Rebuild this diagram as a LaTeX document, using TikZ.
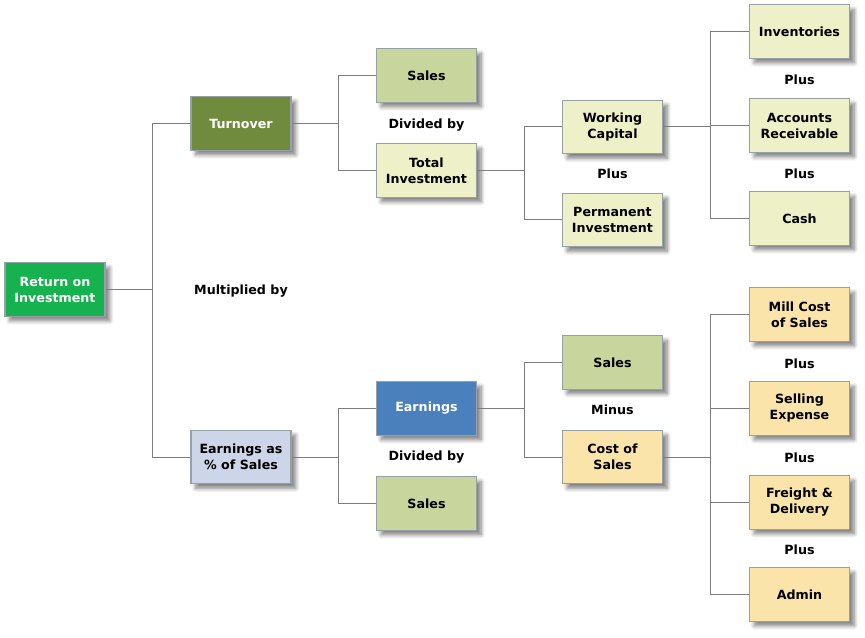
\documentclass[tikz,border=0pt]{standalone}
\usepackage{fontspec}
\setmainfont{DejaVu Sans}
\usepackage{tikz}
\usetikzlibrary{shadows.blur}

\definecolor{roigreen}{RGB}{22,178,80}
\definecolor{olive}{RGB}{112,138,62}
\definecolor{earnblue}{RGB}{74,128,188}
\definecolor{lavender}{RGB}{205,213,232}
\definecolor{salesgreen}{RGB}{200,214,158}
\definecolor{paleyellow}{RGB}{238,240,200}
\definecolor{amber}{RGB}{250,228,170}
\definecolor{boxline}{RGB}{150,160,166}
\definecolor{linkgray}{RGB}{125,125,125}

\tikzset{
  box/.style={draw=boxline, line width=0.8pt, minimum width=75pt, minimum height=40pt,
    align=center, font=\fontsize{9.5}{12}\selectfont\bfseries,
    blur shadow={shadow xshift=3.5pt, shadow yshift=-3.5pt, shadow blur radius=3pt,
      shadow blur steps=8, shadow opacity=50}},
  darkbox/.style={box, text=white},
  word/.style={font=\fontsize{9.5}{12}\selectfont\bfseries},
  link/.style={draw=linkgray, line width=0.75pt}
}

\begin{document}
\begin{tikzpicture}[x=0.75pt, y=-0.75pt]
		%%%%% START %%%%%
		\useasboundingbox (0, 0) rectangle (865, 638);
		
		\node[darkbox, fill=roigreen] (roi) at (55, 289.5) {Return on\\Investment};
		
		\node[darkbox, fill=olive] (turn) at (241, 123.5) {Turnover};
		\node[box, fill=lavender] (epct) at (241, 457) {Earnings as\\\% of Sales};
		
		\node[box, fill=salesgreen] (sales1) at (426.5, 75.5) {Sales};
		\node[box, fill=paleyellow] (totinv) at (426.5, 170.5) {Total\\Investment};
		\node[darkbox, fill=earnblue] (earn) at (426.5, 408.5) {Earnings};
		\node[box, fill=salesgreen] (sales2) at (426.5, 503.5) {Sales};
		
		\node[box, fill=paleyellow] (wcap) at (612.5, 127) {Working\\Capital};
		\node[box, fill=paleyellow] (pinv) at (612.5, 220) {Permanent\\Investment};
		\node[box, fill=salesgreen] (sales3) at (612.5, 362.5) {Sales};
		\node[box, fill=amber] (cost) at (612.5, 457) {Cost of\\Sales};
		
		\node[box, fill=paleyellow] (inv) at (799.5, 31.5) {Inventories};
		\node[box, fill=paleyellow] (acrec) at (799.5, 125.5) {Accounts\\Receivable};
		\node[box, fill=paleyellow] (cash) at (799.5, 218.5) {Cash};
		\node[box, fill=amber] (mill) at (799.5, 314.5) {Mill Cost\\of Sales};
		\node[box, fill=amber] (sell) at (799.5, 408.5) {Selling\\Expense};
		\node[box, fill=amber] (freight) at (799.5, 502.5) {Freight \&\\Delivery};
		\node[box, fill=amber] (admin) at (799.5, 594.5) {Admin};
		
		\node[word] (mult) at (241, 291) {Multiplied by};
		\node[word] (div1) at (426.5, 125) {Divided by};
		\node[word] (div2) at (426.5, 457) {Divided by};
		\node[word] (plus1) at (612.5, 174) {Plus};
		\node[word] (minus) at (612.5, 410) {Minus};
		\node[word] (plus2) at (799.5, 80) {Plus};
		\node[word] (plus3) at (799.5, 174) {Plus};
		\node[word] (plus4) at (799.5, 364) {Plus};
		\node[word] (plus5) at (799.5, 458) {Plus};
		\node[word] (plus6) at (799.5, 550) {Plus};
		
		% connectors
		\draw[link] (roi.east) -- ++(47, 0) coordinate (j1) |- (turn.west);
		\draw[link] (j1) |- (epct.west);
		
		\draw[link] (turn.east) -- ++(47, 0) coordinate (j2) |- (sales1.west);
		\draw[link] (j2) |- (totinv.west);
		
		\draw[link] (epct.east) -- ++(47, 0) coordinate (j3) |- (earn.west);
		\draw[link] (j3) |- (sales2.west);
		
		\draw[link] (totinv.east) -- ++(47, 0) coordinate (j4) |- (wcap.west);
		\draw[link] (j4) |- (pinv.west);
		
		\draw[link] (earn.east) -- ++(47, 0) coordinate (j5) |- (sales3.west);
		\draw[link] (j5) |- (cost.west);
		
		\draw[link] (wcap.east) -- ++(47, 0) coordinate (j6) |- (inv.west);
		\draw[link] (j6) |- (acrec.west);
		\draw[link] (j6) |- (cash.west);
		
		\draw[link] (cost.east) -- ++(47, 0) coordinate (j7) |- (mill.west);
		\draw[link] (j7) |- (sell.west);
		\draw[link] (j7) |- (freight.west);
		\draw[link] (j7) |- (admin.west);
		
		%%%%% END %%%%%
	\end{tikzpicture}
\end{document}
